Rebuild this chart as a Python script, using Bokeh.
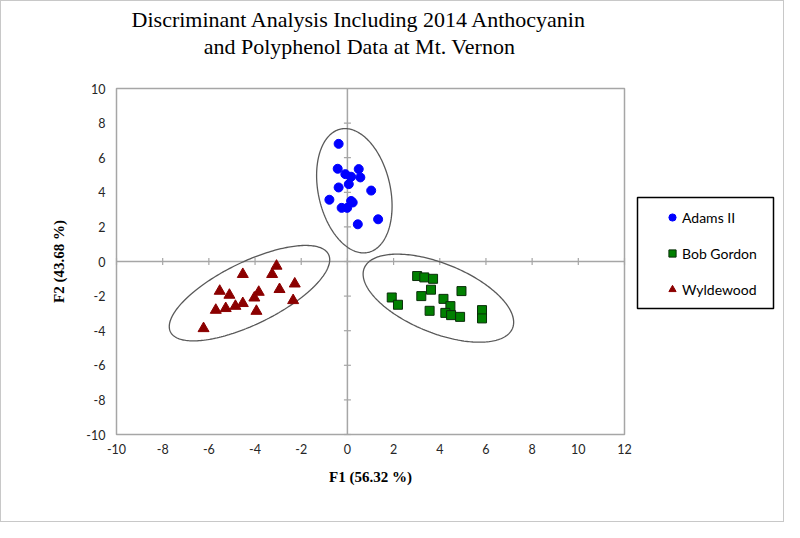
import numpy as np
from bokeh.plotting import figure
from bokeh.models import Legend, LegendItem, Label, BoxAnnotation
from bokeh.core.properties import value
from bokeh.embed import file_html
from bokeh.resources import INLINE

# ---------------- data ----------------
title_lines = ["Discriminant Analysis Including 2014 Anthocyanin",
               "and Polyphenol Data at Mt. Vernon"]
x_label = "F1 (56.32 %)"
y_label = "F2 (43.68 %)"
x_ticks = [-10, -8, -6, -4, -2, 0, 2, 4, 6, 8, 10, 12]
y_ticks = [-10, -8, -6, -4, -2, 0, 2, 4, 6, 8, 10]
x_tick_labels = ["-10", "-8", "-6", "-4", "-2", "0", "2", "4", "6", "8", "10", "12"]
y_tick_labels = ["-10", "-8", "-6", "-4", "-2", "0", "2", "4", "6", "8", "10"]

groups = ["Adams II", "Bob Gordon", "Wyldewood"]

adams_x = [-0.38, -0.42, 0.49, -0.09, 0.16, 0.56, 0.06, -0.38, 1.03, -0.78,
           0.16, 0.23, -0.25, -0.01, 1.33, 0.45]
adams_y = [6.80, 5.36, 5.34, 5.05, 4.90, 4.86, 4.47, 4.28, 4.10, 3.57,
           3.50, 3.41, 3.10, 3.10, 2.44, 2.15]

bob_x = [3.02, 3.33, 3.71, 4.94, 3.62, 3.20, 1.92, 4.16, 2.19, 4.46,
         3.56, 5.83, 4.24, 4.49, 4.88, 5.83]
bob_y = [-0.84, -0.92, -1.00, -1.71, -1.63, -2.00, -2.08, -2.16, -2.50, -2.58,
         -2.85, -2.81, -2.97, -3.10, -3.20, -3.29]

wyl_x = [-3.07, -4.53, -3.26, -2.28, -5.53, -2.94, -3.84, -5.11, -4.03, -2.35,
         -4.53, -4.85, -5.27, -5.70, -3.94, -6.23]
wyl_y = [-0.26, -0.74, -0.74, -1.29, -1.71, -1.61, -1.77, -1.94, -2.10, -2.25,
         -2.42, -2.58, -2.71, -2.81, -2.87, -3.87]

# confidence ellipses (data units): centre, major semi-axis vector, minor semi-axis vector
ell_cx = [0.30, 3.94, -4.24]
ell_cy = [4.09, -2.12, -1.83]
ell_major = [(-0.600, 3.563), (3.211, -1.737), (3.424, 2.236)]
ell_minor = [(-1.520, -0.459), (0.560, 1.860), (-0.588, 1.615)]

# ---------------- layout ----------------
W, H = 784, 522
box_left, box_top = 115, 87           # pixel position of the -10..12 x -10..10 box
box_w, box_h = 508, 346
x0, x1 = x_ticks[0], x_ticks[-1]
y0, y1 = y_ticks[0], y_ticks[-1]
ppx = box_w / (x1 - x0)
ppy = box_h / (y1 - y0)


def dx(px):   # canvas pixel -> x data
    return x0 + (px - box_left) / ppx


def dy(py):   # canvas pixel -> y data
    return y1 - (py - box_top) / ppy


p = figure(width=W, height=H, x_range=(dx(0), dx(W)), y_range=(dy(H), dy(0)),
           x_axis_type=None, y_axis_type=None,
           output_backend="svg", toolbar_location=None,
           min_border_left=0, min_border_right=0,
           min_border_top=0, min_border_bottom=0)
p.grid.visible = False
p.outline_line_color = None
p.background_fill_color = "white"
p.border_fill_color = "white"
p.styles = {"border": "1px solid #c8c8c8"}

axis_grey = "#a6a6a6"
tick_font = "Lato"

# plot box
p.add_layout(BoxAnnotation(left=x0, right=x1, bottom=y0, top=y1,
                           fill_alpha=0, line_alpha=1,
                           line_color=axis_grey, line_width=1.5))

# cross axes through the origin, with tick marks
p.segment(x0=[x0, 0], y0=[0, y0], x1=[x1, 0], y1=[0, y1],
          line_color=axis_grey, line_width=1.5)
p.scatter(x_ticks, [0] * len(x_ticks), marker="dash", angle=np.pi / 2, size=7,
          line_color=axis_grey, line_width=1.2)
p.scatter([0] * len(y_ticks), y_ticks, marker="dash", size=7,
          line_color=axis_grey, line_width=1.2)

# tick labels
p.text(x=x_ticks, y=[y0] * len(x_ticks), text=x_tick_labels,
       text_align="center", text_baseline="top", y_offset=9,
       text_font=value(tick_font), text_font_size="12.5px", text_color="#262626")
p.text(x=[x0] * len(y_ticks), y=y_ticks, text=y_tick_labels,
       text_align="right", text_baseline="middle", x_offset=-11,
       text_font=value(tick_font), text_font_size="12.5px", text_color="#262626")

# axis titles
p.add_layout(Label(x=(x0 + x1) / 2, y=dy(475), text=x_label,
                   text_align="center", text_baseline="middle",
                   text_font="Liberation Serif", text_font_style="bold",
                   text_font_size="15px", text_color="black"))
p.add_layout(Label(x=dx(57), y=(y0 + y1) / 2, text=y_label, angle=np.pi / 2,
                   text_align="center", text_baseline="middle",
                   text_font="Liberation Serif", text_font_style="bold",
                   text_font_size="15px", text_color="black"))

# ellipses
t = np.linspace(0, 2 * np.pi, 240)
for cx, cy, (ux, uy), (vx, vy) in zip(ell_cx, ell_cy, ell_major, ell_minor):
    ex = cx + ux * np.cos(t) + vx * np.sin(t)
    ey = cy + uy * np.cos(t) + vy * np.sin(t)
    p.line(ex, ey, line_color="#595959", line_width=1.3)

r_a = p.scatter(adams_x, adams_y, marker="circle", size=9,
                fill_color="#0000ff", line_color="#0000ff")
r_b = p.scatter(bob_x, bob_y, marker="square", size=9,
                fill_color="#008000", line_color="#0a2e0a", line_width=1)
r_w = p.scatter(wyl_x, wyl_y, marker="triangle", size=11,
                fill_color="#8b0000", line_color="#8b0000")

# legend frame + items
p.add_layout(BoxAnnotation(left=dx(636), right=dx(772), top=dy(196), bottom=dy(307),
                           fill_color="white", fill_alpha=1,
                           line_color="black", line_alpha=1, line_width=1.5))
legend = Legend(items=[LegendItem(label=groups[0], renderers=[r_a]),
                       LegendItem(label=groups[1], renderers=[r_b]),
                       LegendItem(label=groups[2], renderers=[r_w])],
                location=(662, H - 298), orientation="vertical",
                padding=0, margin=0, spacing=16, glyph_width=18, glyph_height=20,
                label_height=20, label_standoff=1,
                label_text_font=tick_font, label_text_font_size="14px",
                label_text_color="black",
                border_line_color=None, background_fill_alpha=0)
p.add_layout(legend, "center")

# title
for i, line in enumerate(title_lines):
    p.add_layout(Label(x=dx(358), y=dy(18 + 27 * i),
                       text=line, text_align="center", text_baseline="middle",
                       text_font="Liberation Serif", text_font_size="22px",
                       text_color="black"))

open("out.html", "w").write(file_html(p, INLINE))
